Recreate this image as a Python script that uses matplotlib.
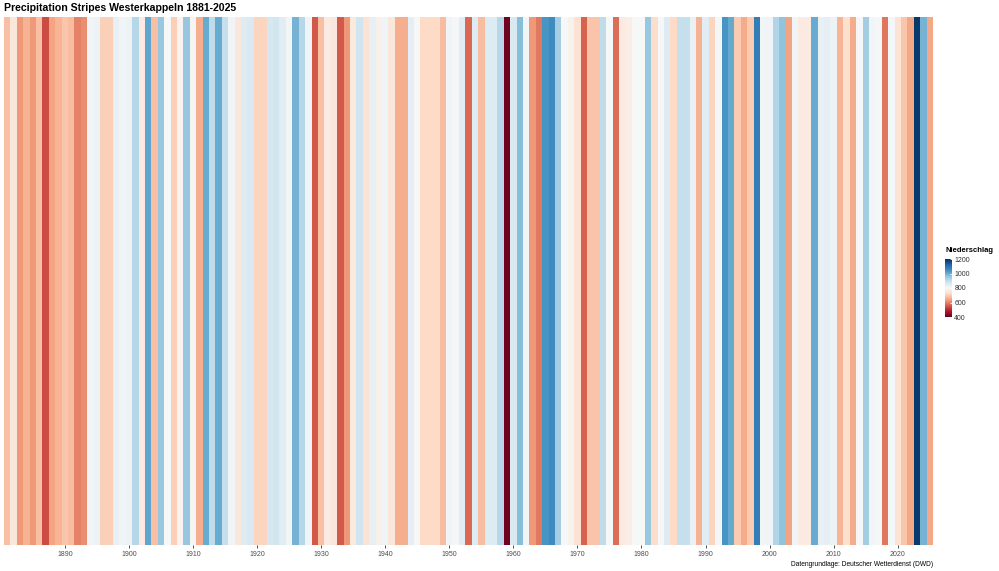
import numpy as np
import matplotlib
matplotlib.use("Agg")
import matplotlib.pyplot as plt
from matplotlib.colors import Normalize
import matplotlib.cm as cm

plt.rcParams['font.family'] = ['Liberation Sans', 'DejaVu Sans']

years = list(range(1881, 2026))
precip = [
    # 1881-1890
    680, 755, 625, 660, 625, 680, 540, 640, 665, 690,
    # 1891-1900
    675, 600, 615, 815, 820, 705, 705, 830, 815, 820,
    # 1901-1910
    915, 765, 1010, 680, 950, 800, 700, 790, 955, 795,
    # 1911-1920
    655, 1000, 900, 1000, 895, 815, 755, 850, 860, 710,
    # 1921-1930
    710, 870, 875, 845, 810, 990, 915, 815, 550, 680,
    # 1931-1940
    765, 755, 555, 625, 760, 880, 740, 835, 780, 815,
    # 1941-1950
    755, 655, 655, 840, 800, 720, 720, 720, 675, 815,
    # 1951-1960
    805, 845, 570, 855, 675, 855, 855, 910, 410, 865,
    # 1961-1970
    970, 810, 625, 590, 1035, 1050, 935, 800, 785, 740,
    # 1971-1980
    565, 685, 685, 900, 800, 575, 765, 770, 800, 800,
    # 1981-1990
    950, 725, 805, 850, 720, 895, 895, 825, 660, 845,
    # 1991-2000
    710, 805, 1035, 1005, 695, 650, 695, 1080, 810, 815,
    # 2001-2010
    920, 960, 640, 815, 765, 765, 1000, 830, 840, 820,
    # 2011-2020
    665, 735, 650, 805, 940, 810, 805, 585, 805, 745,
    # 2021-2025
    690, 645, 1185, 990, 645,
]
decade_ticks = [1890, 1900, 1910, 1920, 1930, 1940, 1950, 1960, 1970, 1980,
                1990, 2000, 2010, 2020]
legend_ticks = [400, 600, 800, 1000, 1200]

W, H = 999, 571
fig = plt.figure(figsize=(W / 100, H / 100), dpi=100)
fig.patch.set_facecolor('white')

cmap = plt.get_cmap('RdBu')
norm = Normalize(vmin=400, vmax=1200)

ax = fig.add_axes([4 / W, (H - 545) / H, 929 / W, 528 / H])
ax.bar(years, [1] * len(years), width=1.0, bottom=0,
       color=[cmap(norm(v)) for v in precip], linewidth=0)
ax.set_xlim(years[0] - 0.5, years[-1] + 0.5)
ax.set_ylim(0, 1)
ax.set_yticks([])
ax.set_xticks(decade_ticks)
ax.set_xticklabels([str(t) for t in decade_ticks])
ax.tick_params(axis='x', length=2.5, width=0.6, color='#333333',
               labelsize=5, labelcolor='#4d4d4d', pad=2)
for s in ax.spines.values():
    s.set_visible(False)

fig.text(4 / W, 1 - 8 / H, 'Precipitation Stripes Westerkappeln 1881-2025',
         ha='left', va='center', fontsize=7.55, fontweight='bold', color='black')

fig.text(933 / W, 1 - 564 / H, 'Datengrundlage: Deutscher Wetterdienst (DWD)',
         ha='right', va='center', fontsize=4.75, color='black')

# legend colorbar
cax = fig.add_axes([945 / W, (H - 317) / H, 6.5 / W, 58 / H])
cb = fig.colorbar(cm.ScalarMappable(norm=norm, cmap=cmap), cax=cax,
                  ticks=legend_ticks)
cb.outline.set_visible(False)
cb.ax.tick_params(labelsize=5, length=1.5, width=0.6, color='white',
                  direction='in', pad=2, labelcolor='#333333')
cb.ax.set_yticklabels([str(t) for t in legend_ticks])
fig.text(945 / W, 1 - 250 / H, 'Niederschlag', ha='left', va='center',
         fontsize=5.5, fontweight='bold', color='black')

fig.savefig('out.png', dpi=100, facecolor='white')
